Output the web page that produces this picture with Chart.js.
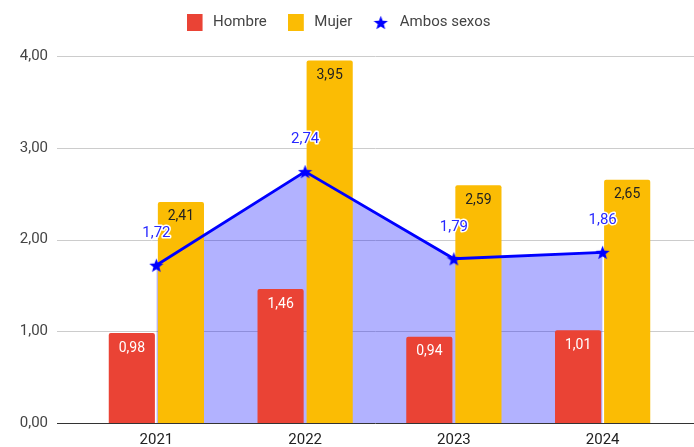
<!DOCTYPE html>
<html>
<head>
<meta charset="utf-8">
<script src="https://cdn.jsdelivr.net/npm/chart.js@4"></script>
<style>
  html, body { margin: 0; padding: 0; background: #fff; }
  #wrap { width: 694px; height: 447px; }
</style>
</head>
<body>
<div id="wrap"><canvas id="chart"></canvas></div>
<script>
const years = ['2021', '2022', '2023', '2024'];
const hombre = [0.98, 1.46, 0.94, 1.01];
const mujer = [2.41, 3.95, 2.59, 2.65];
const ambos = [1.72, 2.74, 1.79, 1.86];
const yTicks = [0, 1, 2, 3, 4];

function fmt(v) {
  return v.toFixed(2).replace('.', ',');
}

// filled five point star, drawn into a small canvas (w wide, star on the left)
function makeStar(w, size, color) {
  const c = document.createElement('canvas');
  c.width = w; c.height = size;
  const g = c.getContext('2d');
  const cx = size / 2, cy = size / 2 + 0.8, R = size / 2, r = R * 0.42;
  g.beginPath();
  for (let i = 0; i < 10; i++) {
    const rad = i % 2 === 0 ? R : r;
    const a = -Math.PI / 2 + i * Math.PI / 5;
    g.lineTo(cx + rad * Math.cos(a), cy + rad * Math.sin(a));
  }
  g.closePath();
  g.fillStyle = color;
  g.fill();
  return c;
}

// legend swatch: square on the left, empty space on the right
function makeSwatch(w, h, color) {
  const c = document.createElement('canvas');
  c.width = w; c.height = h;
  const g = c.getContext('2d');
  g.fillStyle = color;
  g.fillRect(0, 0, 16, h);
  return c;
}

const star = makeStar(15, 15, '#0000ff');
const legendIcons = [
  makeStar(19, 15, '#0000ff'),
  makeSwatch(19, 17, '#ea4335'),
  makeSwatch(19, 17, '#fbbc04')
];

// horizontal rules running wider than the category area
const gridPlugin = {
  id: 'wideGrid',
  beforeDraw(chart) {
    const y = chart.scales.y;
    const ctx = chart.ctx;
    ctx.save();
    yTicks.forEach(v => {
      const py = Math.round(y.getPixelForValue(v)) + 0.5;
      ctx.beginPath();
      ctx.moveTo(57, py);
      ctx.lineTo(694, py);
      ctx.strokeStyle = v === 0 ? '#333333' : '#cccccc';
      ctx.lineWidth = 1;
      ctx.stroke();
    });
    ctx.restore();
  }
};

const legendSize = {
  id: 'legendSize',
  afterInit(chart) {
    const lg = chart.legend;
    const fit = lg.fit;
    lg.fit = function () {
      fit.call(this);
      this.height = 62;
    };
  }
};

const labelPlugin = {
  id: 'valueLabels',
  afterDatasetsDraw(chart) {
    const ctx = chart.ctx;
    ctx.save();
    ctx.textAlign = 'center';
    ctx.textBaseline = 'middle';
    chart.data.datasets.forEach((ds, i) => {
      const meta = chart.getDatasetMeta(i);
      meta.data.forEach((el, j) => {
        const txt = fmt(ds.data[j]);
        if (ds.type === 'line') {
          ctx.font = '15px Roboto';
          ctx.lineWidth = 3;
          ctx.strokeStyle = '#ffffff';
          ctx.lineJoin = 'round';
          ctx.strokeText(txt, el.x, el.y - 32);
          ctx.fillStyle = '#2828ff';
          ctx.fillText(txt, el.x, el.y - 32);
        } else {
          ctx.font = '14px Roboto';
          ctx.fillStyle = ds.labelColor;
          ctx.fillText(txt, el.x, el.y + 15);
        }
      });
    });
    ctx.restore();
  }
};

new Chart(document.getElementById('chart'), {
  data: {
    labels: years,
    datasets: [
      {
        type: 'line',
        label: 'Ambos sexos',
        data: ambos,
        borderColor: '#0000ff',
        borderWidth: 2.8,
        backgroundColor: 'rgba(0, 0, 255, 0.3)',
        fill: 'origin',
        pointStyle: star,
        tension: 0,
        order: 0
      },
      {
        type: 'bar',
        label: 'Hombre',
        data: hombre,
        backgroundColor: '#ea4335',
        labelColor: '#ffffff',
        borderWidth: 0,
        borderRadius: 2,
        categoryPercentage: 0.66,
        barPercentage: 0.94,
        order: 1
      },
      {
        type: 'bar',
        label: 'Mujer',
        data: mujer,
        backgroundColor: '#fbbc04',
        labelColor: '#222222',
        borderWidth: 0,
        borderRadius: 2,
        categoryPercentage: 0.66,
        barPercentage: 0.94,
        order: 1
      }
    ]
  },
  options: {
    responsive: true,
    maintainAspectRatio: false,
    animation: false,
    layout: { padding: { left: 0, right: 17, top: -6, bottom: 0 } },
    plugins: {
      filler: { drawTime: 'beforeDatasetsDraw' },
      tooltip: { enabled: false },
      legend: {
        position: 'top',
        labels: {
          usePointStyle: true,
          pointStyleWidth: 19,
          padding: 21,
          color: '#444444',
          font: { family: 'Roboto', size: 15 },
          generateLabels(chart) {
            const items = Chart.defaults.plugins.legend.labels.generateLabels(chart);
            items.forEach(it => { it.pointStyle = legendIcons[it.datasetIndex]; });
            return items;
          },
          sort: (a, b) => (a.datasetIndex || 9) - (b.datasetIndex || 9)
        }
      }
    },
    scales: {
      x: {
        afterFit(scale) { scale.height = 24; },
        grid: { display: false, drawTicks: false },
        border: { display: false },
        ticks: { color: '#222222', font: { family: 'Roboto', size: 15 }, padding: 8 }
      },
      y: {
        min: 0,
        max: 4,
        afterFit(scale) {
          scale.width = 82;
          scale.paddingTop = 9;
          scale.paddingBottom = 9;
        },
        afterBuildTicks(scale) { scale.ticks = yTicks.map(v => ({ value: v })); },
        grid: { display: false, drawTicks: false },
        border: { display: false },
        ticks: {
          color: '#444444',
          font: { family: 'Roboto', size: 15 },
          padding: 34,
          callback: v => fmt(v)
        }
      }
    }
  },
  plugins: [gridPlugin, legendSize, labelPlugin]
});
</script>
</body>
</html>
